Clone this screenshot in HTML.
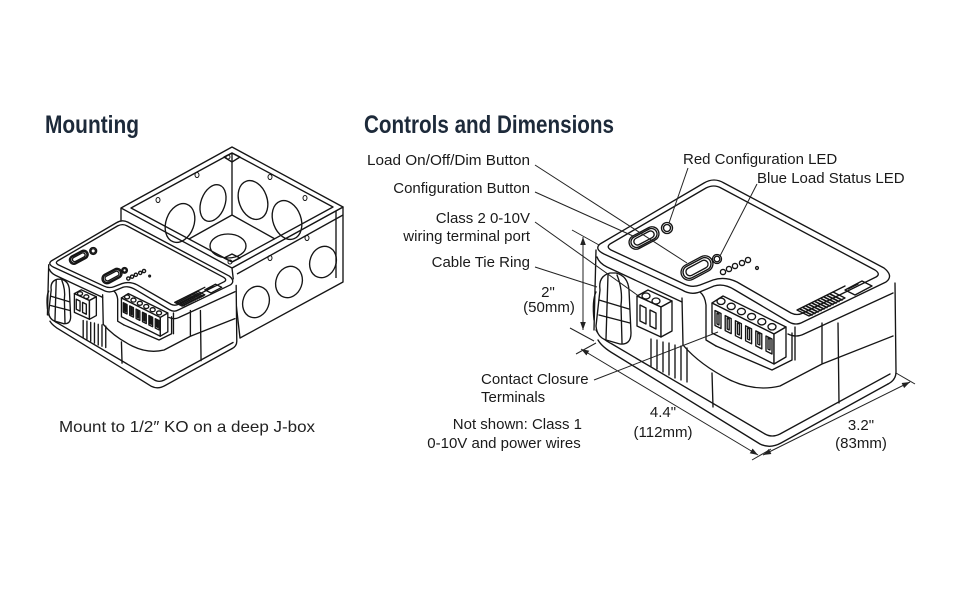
<!DOCTYPE html>
<html>
<head>
<meta charset="utf-8">
<style>
  html,body{margin:0;padding:0;background:#fff;}
  svg{display:block;}
  .ln *{vector-effect:non-scaling-stroke;}
  .t{font-family:"Liberation Sans",Arial,sans-serif;font-size:15px;fill:#1a1a1a;}
  .h{font-family:"Liberation Sans Narrow","Liberation Sans",sans-serif;font-weight:bold;font-size:25px;fill:#1d2a3a;}
</style>
</head>
<body>
<svg width="960" height="600" viewBox="0 0 960 600" xmlns="http://www.w3.org/2000/svg">
  <defs>
    <marker id="ar" viewBox="0 0 10 10" refX="10" refY="5" markerWidth="8" markerHeight="8" markerUnits="userSpaceOnUse" orient="auto-start-reverse">
      <path d="M0,1.5 L10,5 L0,8.5 Z" fill="#222"/>
    </marker>

    <g id="dev" class="ln" fill="none" stroke="#151515" stroke-width="1.35" stroke-linejoin="round" stroke-linecap="round">
      <!-- silhouette -->
      <path fill="#fff" stroke="none" d="M596,246 L706,181 Q714,177 722,181 L888,271 Q896,277 895,285 L897,376 Q896,382 888,386 L772,445 Q764,449 755,444 L596,342 Q590,336 590,326 L592,290 Z"/>
      <!-- lid -->
      <path d="M600,244 L704,183 Q714,177 724,183 L884,268 Q894,276 886,282 L803,322 Q796,326 789,322 L735,290 Q724,283 714,286 L702,291 Q692,296 682,290 L604,254 Q594,249 600,244 Z"/>
      <path d="M610,244 L706,188 Q714,184 721,188 L875,270 Q881,274 876,277 L803,313 Q797,316 791,313 L737,282 Q725,276 713,280 L700,285 Q692,288 684,284 L611,250 Q606,247 610,244 Z"/>
      <!-- lid band lower edges -->
      <path d="M597,257 Q599,263 607,267 L682,302"/>
      <path d="M788,334 Q796,338 804,334 L893,293"/>
      <!-- body edges -->
      <path d="M596,250 L594,330"/>
      <path d="M895,283 L896,372 Q896,380 888,384"/>
      <path d="M795,327 L795,360"/>
      <path d="M822,323 L822,363"/>
      <path d="M838,323 L839,403"/>
      <path d="M683,345 Q700,365 730,380 Q755,392 780,386 L822,364 L893,336"/>
      <path d="M596,330 Q600,338 612,344 L765,434 Q772,438 780,434 L890,374"/>
      <path d="M598,340 Q602,347 614,354 L760,444 Q770,449 781,443 L888,384"/>
      <path d="M712,373 L713,407"/>
      <!-- recess -->
      <path d="M682,298 L683,345"/>
      <path d="M700,292 Q705,296 706,305 L706,340 L716,346"/>
      <path d="M716,346 L772,370 L792,360 L792,333"/>
      <!-- 6-pos terminal block -->
      <g fill="#fff">
        <path d="M712,303 L723,296 L786,327 L774,334 Z"/>
        <path d="M712,303 L774,334 L774,364 L712,333 Z"/>
        <path d="M774,334 L786,327 L786,357 L774,364 Z"/>
      </g>
      <g>
        <ellipse cx="721" cy="301.3" rx="4" ry="3.2"/>
        <ellipse cx="731.2" cy="306.4" rx="4" ry="3.2"/>
        <ellipse cx="741.4" cy="311.5" rx="4" ry="3.2"/>
        <ellipse cx="751.6" cy="316.6" rx="4" ry="3.2"/>
        <ellipse cx="761.8" cy="321.7" rx="4" ry="3.2"/>
        <ellipse cx="772" cy="326.8" rx="4" ry="3.2"/>
        <path d="M715,310.5 l6,3 l0,15 l-6,-3 Z"/>
        <path d="M725.2,315.6 l6,3 l0,15 l-6,-3 Z"/>
        <path d="M735.4,320.7 l6,3 l0,15 l-6,-3 Z"/>
        <path d="M745.6,325.8 l6,3 l0,15 l-6,-3 Z"/>
        <path d="M755.8,330.9 l6,3 l0,15 l-6,-3 Z"/>
        <path d="M766,336 l6,3 l0,15 l-6,-3 Z"/>
        <path d="M717,313 l2,1 l0,11 l-2,-1 Z M727.2,318 l2,1 l0,11 l-2,-1 Z M737.4,323 l2,1 l0,11 l-2,-1 Z M747.6,328 l2,1 l0,11 l-2,-1 Z M757.8,333 l2,1 l0,11 l-2,-1 Z M768,338 l2,1 l0,11 l-2,-1 Z"/>
      </g>
      <!-- 2-pos block -->
      <g fill="#fff">
        <path d="M637,296 L648,290 L672,301 L661,307 Z"/>
        <path d="M637,296 L661,307 L661,337 L637,326 Z"/>
        <path d="M661,307 L672,301 L672,331 L661,337 Z"/>
      </g>
      <ellipse cx="646" cy="296" rx="4" ry="3"/>
      <ellipse cx="656" cy="301" rx="4" ry="3"/>
      <path d="M640,305 L646,308 L646,324 L640,321 Z"/>
      <path d="M650,310 L656,313 L656,329 L650,326 Z"/>
      <!-- vent fins -->
      <path d="M651,339 L651,366 M657,340 L657,369 M663,342 L663,372 M669,343 L669,375 M675,345 L675,378 M681,346 L681,380 M687,348 L687,382"/>
      <!-- cable tie ring -->
      <path fill="#fff" d="M600,290 Q598,276 610,273 L616,273 Q628,276 629,290 L631,333 Q631,345 620,344 L606,340 Q597,337 596,326 Z"/>
      <path d="M599,300 L629,309 M599,315 L630,323 M617,275 Q623,290 621,305 L622,343 M608,275 L606,339 M596,292 Q592,300 594,320"/>
      <!-- buttons -->
      <g transform="translate(644,238) rotate(-28)">
        <rect x="-16" y="-7" width="32" height="14" rx="7"/>
        <rect x="-14" y="-5.5" width="28" height="11" rx="5.5"/>
        <rect x="-11" y="-3.5" width="22" height="7" rx="3.5"/>
      </g>
      <circle cx="667" cy="228" r="5.5"/>
      <circle cx="667" cy="228" r="3.5"/>
      <g transform="translate(697,268) rotate(-28)">
        <rect x="-17" y="-8" width="34" height="16" rx="8"/>
        <rect x="-15" y="-6.3" width="30" height="12.6" rx="6.3"/>
        <rect x="-12" y="-4" width="24" height="8" rx="4"/>
      </g>
      <circle cx="717" cy="259" r="4.5"/>
      <circle cx="717" cy="259" r="2.8"/>
      <circle cx="723" cy="272" r="2.6"/>
      <circle cx="729" cy="269" r="2.6"/>
      <circle cx="735" cy="266" r="2.6"/>
      <circle cx="742" cy="263" r="2.6"/>
      <circle cx="748" cy="260" r="2.6"/>
      <circle cx="757" cy="268" r="1.4"/>
      <!-- barcode -->
      <path d="M797,310 L833,292 L845,298 L809,316 Z"/>
      <path stroke-width="1.6" d="M800,309 l12,6 M803,307.5 l12,6 M806,306 l12,6 M809,304.5 l12,6 M812,303 l12,6 M815,301.5 l12,6 M818,300 l12,6 M821,298.5 l12,6 M824,297 l12,6 M827,295.5 l12,6 M830,294 l12,6"/>
      <path d="M845,290 L862,281 L872,286 L855,295 Z"/>
      <path d="M833,292 L845,286 M848,289 L858,284"/>
    </g>
  </defs>

  <!-- Headings -->
  <text class="h" x="45" y="133" textLength="94" lengthAdjust="spacingAndGlyphs">Mounting</text>
  <text class="h" x="364" y="133" textLength="250" lengthAdjust="spacingAndGlyphs">Controls and Dimensions</text>

  <!-- Junction box -->
  <g class="ln" fill="none" stroke="#151515" stroke-width="1.35" stroke-linejoin="round">
    <path fill="#fff" d="M232,268 L343,207 L343,282 L240,338 Z"/>
    <path fill="#fff" d="M121,208 L232,147 L343,207 L232,268 Z"/>
    <path d="M131,208 L232,153 L333,207 L232,262 Z"/>
    <path d="M232,153 L232,215 L189,239 M232,215 L275,239"/>
    <path d="M121,208 L121,240"/>
    <path d="M237,274 L343,215"/>
    <path d="M336,211 L336,278"/>
    <!-- corner tabs -->
    <path d="M224,157 L232,153 L240,157 L232,162 Z"/>
    <path d="M224,258 L232,262 L240,258 L232,254 Z"/>
    <!-- knockouts -->
    <ellipse cx="180" cy="223" rx="14" ry="20" transform="rotate(20 180 223)"/>
    <ellipse cx="213" cy="203" rx="12" ry="19" transform="rotate(20 213 203)"/>
    <ellipse cx="253" cy="200" rx="14" ry="20" transform="rotate(-20 253 200)"/>
    <ellipse cx="287" cy="220" rx="14" ry="20" transform="rotate(-20 287 220)"/>
    <ellipse cx="228" cy="246" rx="18" ry="12"/>
    <ellipse cx="256" cy="302" rx="13" ry="16" transform="rotate(20 256 302)"/>
    <ellipse cx="289" cy="282" rx="13" ry="16" transform="rotate(20 289 282)"/>
    <ellipse cx="323" cy="262" rx="13" ry="16" transform="rotate(20 323 262)"/>
    <!-- screw holes -->
    <g stroke-width="1">
      <ellipse cx="197" cy="175" rx="2" ry="2.5"/>
      <ellipse cx="158" cy="200" rx="2" ry="2.5"/>
      <ellipse cx="270" cy="177" rx="2" ry="2.5"/>
      <ellipse cx="305" cy="198" rx="2" ry="2.5"/>
      <ellipse cx="228" cy="157" rx="2" ry="2"/>
      <ellipse cx="270" cy="258" rx="2" ry="2.5"/>
      <ellipse cx="307" cy="238" rx="2" ry="2.5"/>
      <ellipse cx="230" cy="262" rx="2" ry="2"/>
    </g>
  </g>

  <!-- Left device (scaled copy) -->
  <use href="#dev" transform="matrix(0.627,0,0,0.627,-325,108)"/>

  <text class="t" x="59" y="432" style="font-size:16px;fill:#222" textLength="256" lengthAdjust="spacingAndGlyphs">Mount to 1/2″ KO on a deep J-box</text>

  <!-- Right device -->
  <use href="#dev"/>

  <!-- Leader lines -->
  <g fill="none" stroke="#222" stroke-width="1">
    <path d="M535,165 L687,263"/>
    <path d="M535,192 L633,236"/>
    <path d="M535,222 L640,297"/>
    <path d="M535,267 L597,287"/>
    <path d="M688,168 L669,223"/>
    <path d="M757,184 L720,256"/>
    <path d="M594,380 L718,332"/>
    <!-- dimension lines -->
    <path d="M583,237 L583,330" marker-start="url(#ar)" marker-end="url(#ar)"/>
    <path d="M572,230 L599,245"/>
    <path d="M570,328 L594,341"/>
    <path d="M581,349 L758,455" marker-start="url(#ar)" marker-end="url(#ar)"/>
    <path d="M576,354 L596,343"/>
    <path d="M752,460 L771,449"/>
    <path d="M763,455 L910,382" marker-start="url(#ar)" marker-end="url(#ar)"/>
    <path d="M896,373 L915,384"/>
  </g>

  <!-- Labels -->
  <g class="t">
    <text x="530" y="165" text-anchor="end" textLength="163" lengthAdjust="spacingAndGlyphs">Load On/Off/Dim Button</text>
    <text x="530" y="193" text-anchor="end">Configuration Button</text>
    <text x="530" y="223" text-anchor="end">Class 2 0-10V</text>
    <text x="530" y="241" text-anchor="end">wiring terminal port</text>
    <text x="530" y="267" text-anchor="end">Cable Tie Ring</text>
    <text x="548" y="297" text-anchor="middle">2"</text>
    <text x="549" y="312" text-anchor="middle">(50mm)</text>
    <text x="481" y="384">Contact Closure</text>
    <text x="481" y="402">Terminals</text>
    <text x="582" y="429" text-anchor="end">Not shown: Class 1</text>
    <text x="504" y="448" text-anchor="middle">0-10V and power wires</text>
    <text x="663" y="417" text-anchor="middle">4.4"</text>
    <text x="663" y="437" text-anchor="middle">(112mm)</text>
    <text x="861" y="430" text-anchor="middle">3.2"</text>
    <text x="861" y="448" text-anchor="middle">(83mm)</text>
    <text x="683" y="164">Red Configuration LED</text>
    <text x="757" y="183">Blue Load Status LED</text>
  </g>
</svg>
</body>
</html>
